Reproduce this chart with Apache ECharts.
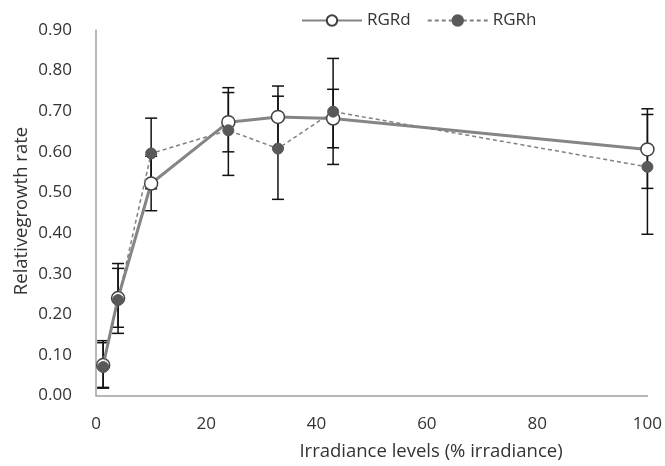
<!DOCTYPE html>
<html>
<head>
<meta charset="utf-8">
<script src="https://cdn.jsdelivr.net/npm/echarts@6/dist/echarts.min.js"></script>
<style>html,body{margin:0;padding:0;background:#fff}#c{width:665px;height:466px}</style>
</head>
<body>
<div id="c"></div>
<script>
// Irradiance levels (% irradiance)
var irradiance = [1.3, 4, 10, 24, 33, 43, 100];
// Relative growth rate
var rgrd = [0.075, 0.240, 0.522, 0.673, 0.686, 0.682, 0.606];
var rgrh = [0.070, 0.235, 0.596, 0.653, 0.608, 0.699, 0.563];
// error bar bounds
var rgrdLow  = [0.020, 0.168, 0.455, 0.600, 0.610, 0.610, 0.510];
var rgrdHigh = [0.130, 0.313, 0.589, 0.746, 0.762, 0.754, 0.706];
var rgrhLow  = [0.018, 0.153, 0.509, 0.542, 0.483, 0.569, 0.397];
var rgrhHigh = [0.135, 0.325, 0.683, 0.758, 0.737, 0.830, 0.692];
var yTicks = [0, 0.1, 0.2, 0.3, 0.4, 0.5, 0.6, 0.7, 0.8, 0.9];
var xTicks = [0, 20, 40, 60, 80, 100];

var FONT = '"Open Sans"';
var TXT = '#333333';

function pairs(xs, ys) { return xs.map(function (x, i) { return [x, ys[i]]; }); }
function bars(xs, lo, hi) { return xs.map(function (x, i) { return [x, lo[i], hi[i]]; }); }

function errRender(params, api) {
  var x = api.value(0);
  var lo = api.coord([x, api.value(1)]);
  var hi = api.coord([x, api.value(2)]);
  var w = 6;
  var st = { stroke: '#111', lineWidth: 1.5 };
  return {
    type: 'group',
    children: [
      { type: 'line', shape: { x1: lo[0], y1: lo[1], x2: hi[0], y2: hi[1] }, style: st },
      { type: 'line', shape: { x1: lo[0] - w, y1: lo[1], x2: lo[0] + w, y2: lo[1] }, style: st },
      { type: 'line', shape: { x1: hi[0] - w, y1: hi[1], x2: hi[0] + w, y2: hi[1] }, style: st }
    ]
  };
}

var chart = echarts.init(document.getElementById('c'), null, { renderer: 'canvas' });
chart.setOption({
  animation: false,
  backgroundColor: '#fff',
  textStyle: { fontFamily: 'Open Sans' },
  grid: { left: 96, right: 15, top: 30, bottom: 70.5, containLabel: false },
  legend: {
    left: 296, top: 7,
    itemWidth: 60, itemHeight: 13, itemGap: 16,
    textStyle: { fontFamily: 'Open Sans', fontSize: 17, color: TXT },
    data: ['RGRd', 'RGRh']
  },
  xAxis: {
    type: 'value', min: xTicks[0], max: xTicks[xTicks.length - 1], interval: 20,
    axisLine: { lineStyle: { color: '#a0a0a0', width: 1.5 } },
    axisTick: { show: false },
    splitLine: { show: false },
    axisLabel: { fontFamily: 'Open Sans', fontSize: 17, color: TXT, margin: 20 }
  },
  yAxis: {
    type: 'value', min: yTicks[0], max: yTicks[yTicks.length - 1], interval: 0.1,
    axisLine: { show: true, lineStyle: { color: '#a0a0a0', width: 1.5 } },
    axisTick: { show: false },
    splitLine: { show: false },
    axisLabel: { fontFamily: 'Open Sans', fontSize: 17, color: TXT, margin: 24,
      formatter: function (v) { return v.toFixed(2); } }
  },
  graphic: [
    { type: 'text', x: 431, y: 452,
      style: { text: 'Irradiance levels (% irradiance)', font: '18.5px ' + FONT, fill: TXT,
        textAlign: 'center', textVerticalAlign: 'middle' } },
    { type: 'text', x: 22, y: 211, rotation: Math.PI / 2,
      style: { text: 'Relativegrowth rate', font: '18.5px ' + FONT, fill: TXT,
        textAlign: 'center', textVerticalAlign: 'middle' } }
  ],
  series: [
    { type: 'custom', name: 'errH', renderItem: errRender, data: bars(irradiance, rgrhLow, rgrhHigh), z: 1, silent: true },
    { type: 'custom', name: 'errD', renderItem: errRender, data: bars(irradiance, rgrdLow, rgrdHigh), z: 1, silent: true },
    {
      name: 'RGRd', type: 'line', data: pairs(irradiance, rgrd), z: 3,
      symbol: 'circle', symbolSize: 13,
      lineStyle: { color: '#858585', width: 3 },
      itemStyle: { color: '#ffffff', borderColor: '#404040', borderWidth: 1.5 }
    },
    {
      name: 'RGRh', type: 'line', data: pairs(irradiance, rgrh), z: 4,
      symbol: 'circle', symbolSize: 11,
      lineStyle: { color: '#808080', width: 1.5, type: [4, 3] },
      itemStyle: { color: '#595959', borderColor: '#595959', borderWidth: 1 }
    }
  ]
});
</script>
</body>
</html>
